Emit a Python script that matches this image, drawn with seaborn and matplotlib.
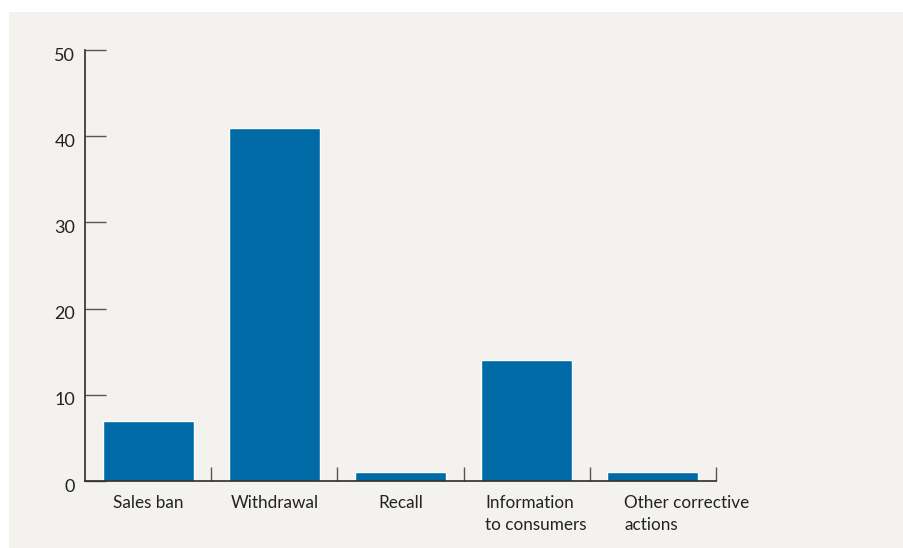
import numpy as np
import pandas as pd
import seaborn as sns
import matplotlib.pyplot as plt
from matplotlib.patches import Rectangle
from matplotlib.transforms import ScaledTranslation

# Data
categories = ["Sales ban", "Withdrawal", "Recall",
              "Information\nto consumers", "Other corrective\nactions"]
counts = [7, 41, 1, 14, 1]
y_ticks = [0, 10, 20, 30, 40, 50]

df = pd.DataFrame({"category": categories, "count": counts})

sns.set_theme(style="white")
plt.rcParams["font.family"] = ["Lato", "DejaVu Sans"]

bg = "#f3f2ef"
fig = plt.figure(figsize=(9.04, 5.48), dpi=100, facecolor="white")
fig.patches.append(Rectangle((9 / 904, 0), 1, 1 - 12 / 548, transform=fig.transFigure,
                             facecolor=bg, edgecolor="none", zorder=-10))
ax = fig.add_axes([85 / 904, 1 - 481 / 548, (716 - 85) / 904, (481 - 50) / 548])
ax.set_facecolor(bg)

sns.barplot(data=df, x="category", y="count", color="#006aa7", width=0.72,
            saturation=1, ax=ax)

ax.set_xlim(-0.5, len(categories) - 0.5)
ax.set_ylim(0, 50)
ax.set_yticks(y_ticks)
ax.set_xlabel("")
ax.set_ylabel("")

for s in ["top", "right"]:
    ax.spines[s].set_visible(False)
for s in ["left", "bottom"]:
    ax.spines[s].set_color("#2b2b2b")
    ax.spines[s].set_linewidth(1.2)

# category boundaries as inward minor ticks
ax.set_xticks(np.arange(len(categories)) + 0.5, minor=True)
ax.tick_params(axis="x", which="minor", bottom=True, direction="in", length=10,
               width=1, color="#555555")
ax.tick_params(axis="x", which="major", bottom=True, length=0, pad=10, labelsize=12.3,
               labelcolor="#222222")
ax.tick_params(axis="y", left=True, direction="in", length=15, width=1, color="#555555",
               pad=7, labelsize=13, labelcolor="#222222")

offsets = [0, 0, 0, 0.09, 0.34]
for lab, off in zip(ax.get_xticklabels(), offsets):
    lab.set_multialignment("left")
    lab.set_linespacing(1.45)
    lab.set_verticalalignment("top")
    lab.set_transform(lab.get_transform() + ScaledTranslation(off, 0, fig.dpi_scale_trans))
for lab in ax.get_yticklabels():
    lab.set_transform(lab.get_transform() + ScaledTranslation(0, -0.04, fig.dpi_scale_trans))

fig.savefig("out.png", dpi=100, facecolor="white")
